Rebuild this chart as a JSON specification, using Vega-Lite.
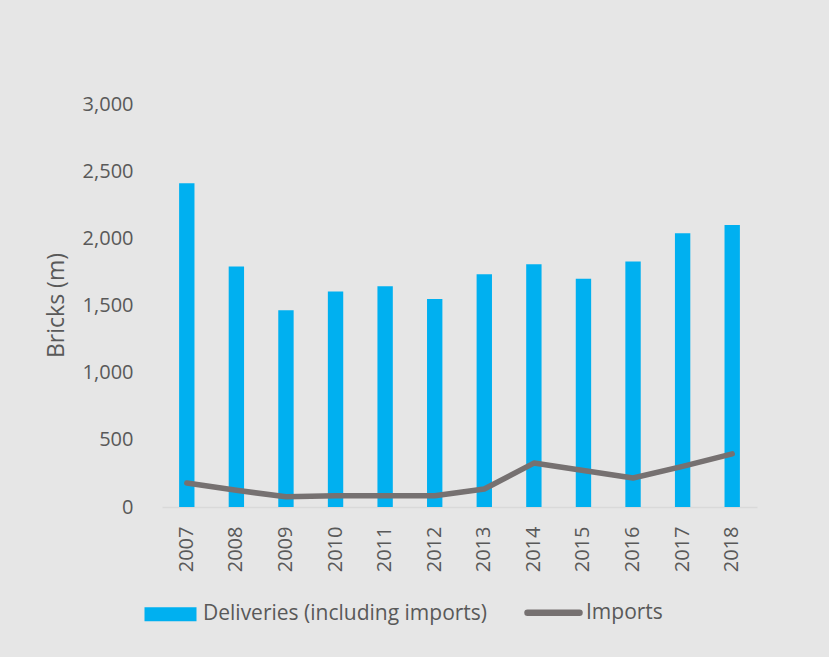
{
  "$schema": "https://vega.github.io/schema/vega-lite/v6.json",
  "width": 595,
  "height": 403,
  "autosize": {"type": "none"},
  "padding": {"left": 162, "top": 104, "right": 72, "bottom": 150},
  "background": "#e6e6e6",
  "config": {"view": {"stroke": null}, "font": "Open Sans"},
  "data": {
    "values": [
      {"year": "2007", "deliveries": 2410, "imports": 178},
      {"year": "2008", "deliveries": 1790, "imports": 124},
      {"year": "2009", "deliveries": 1465, "imports": 76},
      {"year": "2010", "deliveries": 1604, "imports": 84},
      {"year": "2011", "deliveries": 1644, "imports": 84},
      {"year": "2012", "deliveries": 1549, "imports": 84},
      {"year": "2013", "deliveries": 1733, "imports": 134},
      {"year": "2014", "deliveries": 1807, "imports": 327},
      {"year": "2015", "deliveries": 1700, "imports": 272},
      {"year": "2016", "deliveries": 1827, "imports": 216},
      {"year": "2017", "deliveries": 2038, "imports": 302},
      {"year": "2018", "deliveries": 2100, "imports": 396}
    ]
  },
  "encoding": {
    "x": {
      "field": "year",
      "type": "ordinal",
      "scale": {"paddingInner": 0.69, "paddingOuter": 0.345},
      "axis": {
        "title": null,
        "labelAngle": -90,
        "labelFontSize": 20,
        "labelColor": "#595959",
        "labelPadding": 19,
        "ticks": false,
        "domainColor": "#d9d9d9",
        "domainWidth": 1.5
      }
    }
  },
  "layer": [
    {
      "mark": {"type": "bar", "fill": "#00b0f0"},
      "encoding": {
        "y": {
          "field": "deliveries",
          "type": "quantitative",
          "scale": {"domain": [0, 3000]},
          "axis": {
            "title": "Bricks (m)",
            "values": [0, 500, 1000, 1500, 2000, 2500, 3000],
            "format": ",d",
            "grid": false,
            "ticks": false,
            "domain": false,
            "labelFontSize": 20,
            "labelColor": "#595959",
            "labelPadding": 29,
            "titleFontSize": 23,
            "titleFontWeight": "normal",
            "titleColor": "#595959",
            "titleX": -106,
            "titleY": 201,
            "titleAngle": -90,
            "titleAlign": "center",
            "titleBaseline": "middle"
          }
        },
        "color": {
          "datum": "Deliveries (including imports)",
          "scale": {
            "domain": ["Deliveries (including imports)", "Imports"],
            "range": ["#00b0f0", "#767171"]
          },
          "legend": {
            "title": null,
            "orient": "none",
            "legendX": -2,
            "legendY": 498,
            "direction": "horizontal",
            "labelFontSize": 21,
            "labelColor": "#595959",
            "labelLimit": 500,
            "symbolSize": 2704,
            "columnPadding": 26,
            "labelOffset": 22,
            "encode": {
              "symbols": {
                "update": {
                  "shape": {"signal": "datum.value === 'Imports' ? 'stroke' : 'M-1,-0.27H1V0.27H-1Z'"},
                  "fill": {"signal": "datum.value === 'Imports' ? 'transparent' : '#00b0f0'"},
                  "stroke": {"signal": "datum.value === 'Imports' ? '#767171' : 'transparent'"},
                  "strokeWidth": {"signal": "datum.value === 'Imports' ? 6.5 : 0"},
                  "strokeCap": {"value": "round"},
                  "opacity": {"value": 1}
                }
              }
            }
          }
        }
      }
    },
    {
      "mark": {"type": "line", "strokeWidth": 5.5, "strokeCap": "round", "strokeJoin": "round"},
      "encoding": {
        "y": {"field": "imports", "type": "quantitative"},
        "color": {"datum": "Imports"}
      }
    }
  ]
}
